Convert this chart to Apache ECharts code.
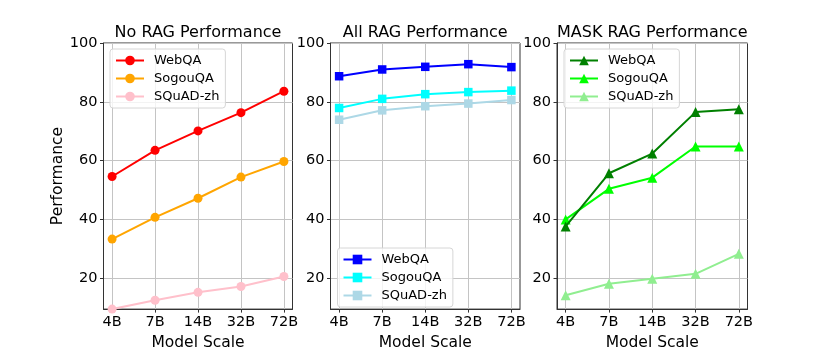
<!DOCTYPE html>
<html><head><meta charset="utf-8">
<script src="https://cdn.jsdelivr.net/npm/echarts@6/dist/echarts.min.js"></script>
<style>html,body{margin:0;padding:0;background:#fff}#c{width:830px;height:356px}</style>
</head><body><div id="c"></div>
<script>
const categories = ['4B', '7B', '14B', '32B', '72B'];
const yTicks = [20, 40, 60, 80, 100];
const panelTitles = ['No RAG Performance', 'All RAG Performance', 'MASK RAG Performance'];
const seriesNames = ['WebQA', 'SogouQA', 'SQuAD-zh'];

const noRagWebQA = [54.6, 63.5, 70.1, 76.3, 83.6];
const noRagSogouQA = [33.3, 40.7, 47.2, 54.4, 59.7];
const noRagSQuAD = [9.5, 12.5, 15.2, 17.2, 20.6];

const allRagWebQA = [88.7, 91.0, 91.9, 92.8, 91.8];
const allRagSogouQA = [77.9, 81.0, 82.6, 83.3, 83.8];
const allRagSQuAD = [73.9, 77.1, 78.5, 79.4, 80.6];

const maskRagWebQA = [37.6, 55.7, 62.4, 76.5, 77.5];
const maskRagSogouQA = [40.0, 50.4, 54.2, 64.8, 64.8];
const maskRagSQuAD = [14.2, 18.1, 19.8, 21.5, 28.3];

const FONT = 'DejaVu Sans';
const panels = [
  { data: [noRagWebQA, noRagSogouQA, noRagSQuAD], colors: ['#ff0000', '#ffa500', '#ffc0cb'], symbol: 'circle', size: 9 },
  { data: [allRagWebQA, allRagSogouQA, allRagSQuAD], colors: ['#0000ff', '#00ffff', '#add8e6'], symbol: 'rect', size: 8.5 },
  { data: [maskRagWebQA, maskRagSogouQA, maskRagSQuAD], colors: ['#008000', '#00ff00', '#90ee90'], symbol: 'triangle', size: 10 }
];
const grids = [
  { left: 103.5, top: 43, width: 189, height: 273 },
  { left: 330.5, top: 43, width: 189.5, height: 273 },
  { left: 557, top: 43, width: 190.5, height: 273 }
];
const legendPos = [{ left: 110, top: 49 }, { left: 337.5, top: 248 }, { left: 564, top: 49 }];

const chart = echarts.init(document.getElementById('c'), null, { renderer: 'canvas' });
const tickIdx = categories.map((c, i) => i);

const option = {
  animation: false,
  backgroundColor: '#fff',
  grid: grids.map(g => Object.assign({ show: true, borderColor: '#333', borderWidth: 1, backgroundColor: 'transparent', containLabel: false }, g)),
  xAxis: grids.map((g, k) => ({
    type: 'value', gridIndex: k, min: -0.2, max: 4.2,
    axisLine: { show: true, onZero: false, lineStyle: { color: '#333', width: 1 } },
    axisTick: { show: true, customValues: tickIdx, length: 3.5, lineStyle: { color: '#333' } },
    axisLabel: { customValues: tickIdx, formatter: v => categories[Math.round(v)], margin: 6, fontSize: 14.5, fontFamily: FONT, color: '#000' },
    splitLine: { show: true, lineStyle: { color: '#c4c4c4', width: 1 } },
    name: 'Model Scale', nameLocation: 'middle', nameGap: 20,
    nameTextStyle: { fontSize: 15.5, fontFamily: FONT, color: '#000' }
  })),
  yAxis: grids.map((g, k) => ({
    type: 'value', gridIndex: k, min: 9.5, max: 100,
    axisLine: { show: true, onZero: false, lineStyle: { color: '#333', width: 1 } },
    axisTick: { show: true, customValues: yTicks, length: 3.5, lineStyle: { color: '#333' } },
    axisLabel: { customValues: yTicks, margin: 6, fontSize: 14.5, fontFamily: FONT, color: '#000' },
    splitLine: { show: true, lineStyle: { color: '#c4c4c4', width: 1 } },
    name: k === 0 ? 'Performance' : '', nameLocation: 'middle', nameGap: 38,
    nameTextStyle: { fontSize: 15.5, fontFamily: FONT, color: '#000' }
  })),
  legend: panels.map((p, k) => ({
    data: seriesNames.map(n => n + '|' + k),
    orient: 'vertical', left: legendPos[k].left, top: legendPos[k].top,
    itemWidth: 28, itemHeight: 12, itemGap: 5,
    padding: [5, 6, 5, 5],
    borderColor: '#d6d6d6', borderWidth: 1, borderRadius: 3,
    backgroundColor: 'rgba(255,255,255,0.8)',
    selectedMode: false,
    formatter: n => n.split('|')[0],
    textStyle: { fontSize: 13, fontFamily: FONT, color: '#000', padding: [0, 0, 0, 5] }
  })),
  graphic: grids.map((g, k) => ({
    type: 'text', left: g.left + g.width / 2, top: 23,
    style: { text: panelTitles[k], font: '16px "DejaVu Sans"', fill: '#000', textAlign: 'center' }
  })),
  series: []
};

// titles centered via x positioning
option.graphic = grids.map((g, k) => ({
  type: 'text', x: g.left + g.width / 2, y: 33,
  style: { text: panelTitles[k], font: '16px "DejaVu Sans"', fill: '#000', align: 'center', verticalAlign: 'middle' }
}));

panels.forEach((p, k) => {
  p.data.forEach((vals, j) => {
    option.series.push({
      type: 'line', name: seriesNames[j] + '|' + k,
      xAxisIndex: k, yAxisIndex: k,
      data: vals.map((v, i) => [i, v]),
      symbol: p.symbol, symbolSize: p.size,
      lineStyle: { color: p.colors[j], width: 2 },
      itemStyle: { color: p.colors[j] },
      emphasis: { disabled: true },
      clip: true, z: 3 + (2 - j)
    });
  });
});

chart.setOption(option);
</script>
</body></html>
